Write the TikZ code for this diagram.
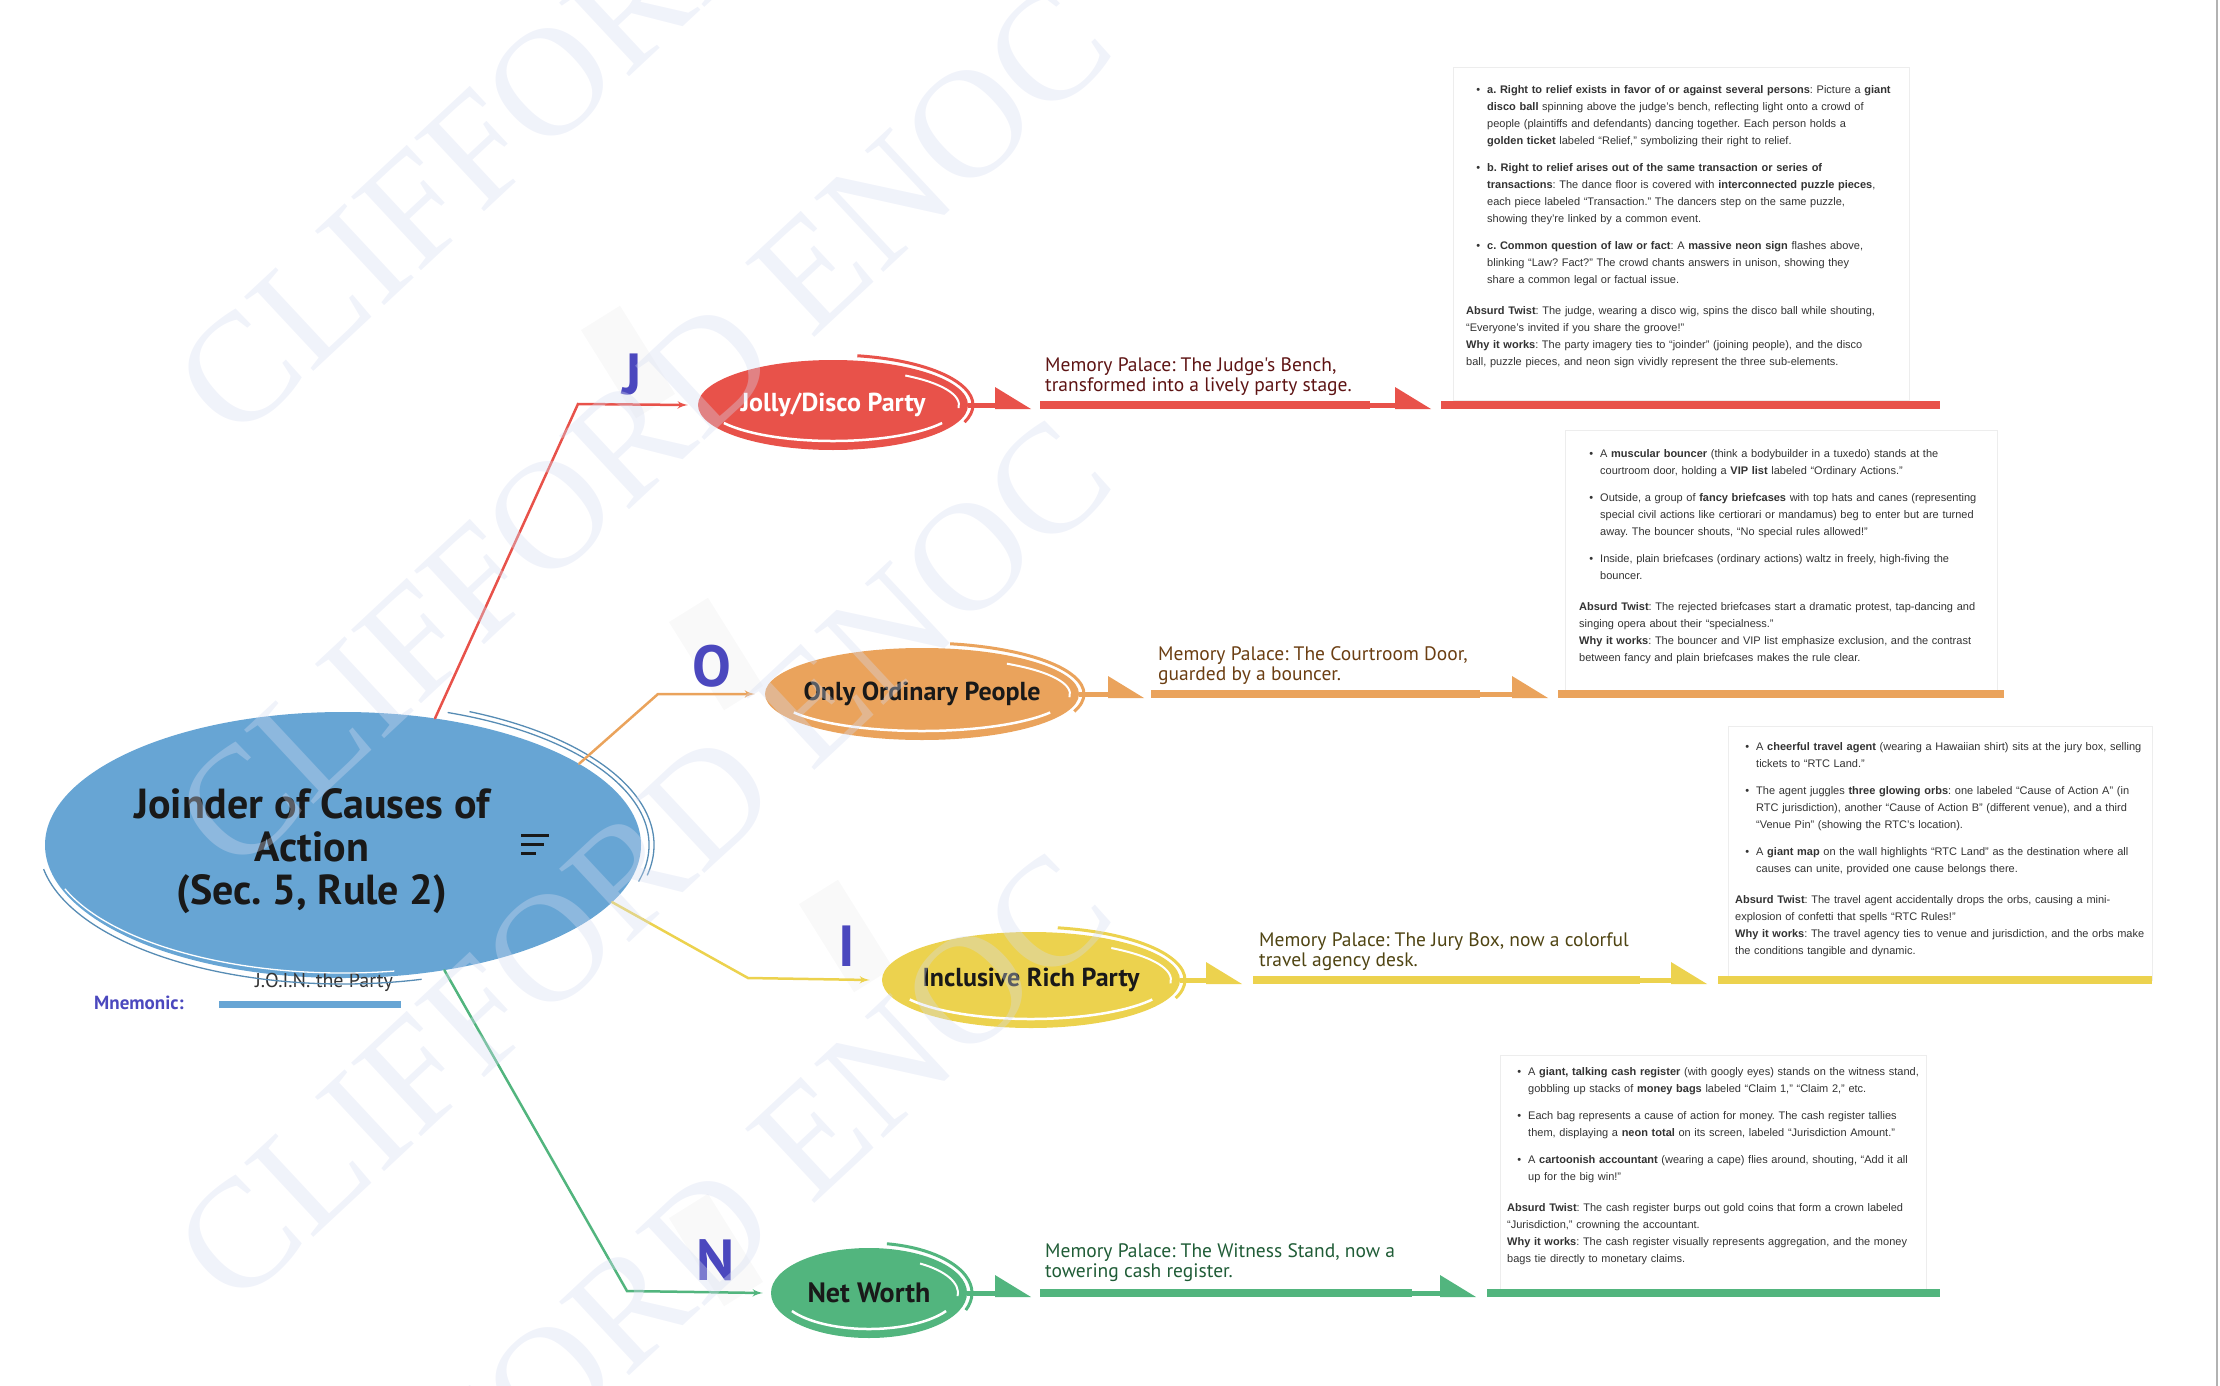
\documentclass[tikz,border=0pt]{standalone}
\usepackage{fontspec}
\setmainfont{Liberation Sans}
\newfontfamily\headfont{PT Sans}
\newfontfamily\markfont{Liberation Serif}
\usepackage{xcolor}
\usetikzlibrary{shapes.geometric, arrows, calc}

\definecolor{mapblue}{HTML}{67A5D4}
\definecolor{jred}{HTML}{E8524A}
\definecolor{oorange}{HTML}{EAA35C}
\definecolor{iyellow}{HTML}{ECD24E}
\definecolor{ngreen}{HTML}{52B57E}
\definecolor{letterblue}{HTML}{4B48BE}
\definecolor{jtext}{HTML}{5E1414}
\definecolor{otext}{HTML}{6B3E12}
\definecolor{itext}{HTML}{4F4412}
\definecolor{ntext}{HTML}{1F5C36}
\definecolor{wmarkc}{HTML}{D5DCF1}

\newcommand{\bul}[1]{\par\noindent\hangindent=21pt\hangafter=0\llap{\textbullet\hspace{7pt}}#1\par\vspace{10pt}}

\begin{document}
\frenchspacing
\begin{tikzpicture}[
    x=1pt, y=-1pt,
    >=latex',
    topic/.style={ellipse, fill=mapblue, minimum width=596pt, minimum height=266pt, inner sep=0pt},
    branch/.style={ellipse, inner sep=-12pt, text=black!90, font=\headfont\bfseries\fontsize{26}{30}\selectfont},
    letter/.style={text=letterblue, inner sep=0pt, font=\headfont\bfseries\fontsize{58}{58}\selectfont},
    scribble/.style={fill=black!3, opacity=0.7, minimum width=46pt, minimum height=104pt, rotate=32},
    twig/.style={line width=2.5pt, line cap=round},
    stub/.style={line width=5pt},
    bar/.style={line width=8pt},
    wedge/.style={insert path={++(0,4) -- ++(0,-22) -- ++(36,22) -- cycle}},
    memo/.style={anchor=north west, inner sep=0pt, align=left, font=\headfont\fontsize{19.5}{20}\selectfont},
    panel/.style={draw=black!7, fill=white, line width=1pt},
    note/.style={anchor=north west, inner sep=0pt, text width=520pt, align=left, text=black!80, font=\fontsize{11}{17}\selectfont},
    wmark/.style={anchor=base west, rotate=43, inner sep=0pt, text=wmarkc, opacity=0.35, font=\markfont\fontsize{155}{155}\selectfont}
]
    \useasboundingbox (0,0) rectangle (2220,1386);
    \draw[black!30, line width=2pt] (2217,0) -- (2217,1386);

    % Text panels
    \draw[panel] (1453,68) rectangle (1909,400);
    \draw[panel] (1565,430) rectangle (1997,694);
    \draw[panel] (1728,726) rectangle (2152,980);
    \draw[panel] (1500,1055) rectangle (1926,1293);

    % Node placement
    \node[topic] (topic) at (343,845) {};
    \node[align=center, text=black!90, font=\headfont\bfseries\fontsize{42}{43}\selectfont] (title) at (312,851) {Joinder of Causes of\\Action\\(Sec. 5, Rule 2)};
    \coordinate (menu) at (521,835);
    \draw[black!90, line width=3pt] (menu) -- ++(28,0) (menu) ++(0,9) -- ++(23,0) (menu) ++(0,18) -- ++(15,0);

    \node[text=letterblue, font=\headfont\bfseries\fontsize{19}{20}\selectfont] (mnem) at (139,1003) {Mnemonic:};
    \node[text=black!80, font=\headfont\fontsize{20}{22}\selectfont] (join) at (324,982) {J.O.I.N. the Party};
    \coordinate (ul) at (219,1004);
    \draw[mapblue, line width=7pt] (ul) -- ++(182,0);

    \node[scribble] at (628,362) {};
    \node[scribble] at (716,654) {};
    \node[scribble] at (846,936) {};
    \node[scribble] at (716,1250) {};
    \node[letter] (lj) at (632,375) {J};
    \node[letter] (lo) at (712,666) {O};
    \node[letter] (li) at (847,946) {I};
    \node[letter] (ln) at (716,1260) {N};

    \node[branch, fill=jred, text=white, minimum width=270pt, minimum height=90pt] (jolly) at (833,405) {Jolly/Disco Party};
    \node[branch, fill=oorange, minimum width=314pt, minimum height=92pt] (only) at (922,694) {Only Ordinary People};
    \node[branch, fill=iyellow, minimum width=298pt, minimum height=96pt] (incl) at (1031,980) {Inclusive Rich Party};
    \node[branch, fill=ngreen, minimum width=196pt, minimum height=90pt, font=\headfont\bfseries\fontsize{28}{30}\selectfont] (net) at (869,1293) {Net Worth};

    % Sketchy outlines
    \draw[mapblue!85!black, line width=1.3pt] ($(topic.center)+(-70:306 and 141)$) arc[start angle=-70, end angle=15, x radius=306, y radius=141];
    \draw[mapblue!85!black, line width=1.3pt] ($(topic.center)+(-66:311 and 146)$) arc[start angle=-66, end angle=12, x radius=311, y radius=146];
    \draw[mapblue!85!black, line width=1.3pt] ($(topic.center)+(75:304 and 139)$) arc[start angle=75, end angle=170, x radius=304, y radius=139];
    \draw[white, line width=1.3pt] ($(topic.center)+(80:296 and 128)$) arc[start angle=80, end angle=160, x radius=296, y radius=128];
    \foreach \n/\c/\a/\b in {jolly/jred/135/45, only/oorange/157/46, incl/iyellow/149/48, net/ngreen/98/45} {
        \pgfmathsetmacro\ra{\a+5}
        \pgfmathsetmacro\rb{\b+5}
        \pgfmathsetmacro\wa{\a-9}
        \pgfmathsetmacro\wb{\b-9}
        \draw[\c, line width=3pt] ($(\n.center)+(-80:{\ra} and {\rb})$) arc[start angle=-80, end angle=20, x radius=\ra, y radius=\rb];
        \draw[white, line width=2.5pt] ($(\n.center)+(30:{\wa} and {\wb})$) arc[start angle=30, end angle=150, x radius=\wa, y radius=\wb];
        \draw[white, line width=2pt] ($(\n.center)+(-55:{\wa} and {\wb})$) arc[start angle=-55, end angle=5, x radius=\wa, y radius=\wb];
    }

    % Branches
    \coordinate (jbend) at (578,404);
    \coordinate (obend) at (658,694);
    \coordinate (ibend) at (748,978);
    \coordinate (nbend) at (627,1291);
    \draw[twig, jred, ->] (topic.54) -- (jbend) -- ([xshift=-10pt]jolly.west);
    \draw[twig, oorange, ->] (topic.19) -- (obend) -- ([xshift=-10pt]only.west);
    \draw[twig, iyellow, ->] (topic.-12) -- (ibend) -- ([xshift=-12pt]incl.west);
    \draw[twig, ngreen, ->] (topic.309) -- (nbend) -- ([xshift=-8pt]net.west);

    % Arrows
    \coordinate (ja) at (995,405);  \coordinate (jb) at (1040,405); \coordinate (jc) at (1370,405);
    \coordinate (jd) at (1395,405); \coordinate (je) at (1441,405); \coordinate (jf) at (1940,405);
    \draw[stub, jred] (jolly.east) -- (ja) (jc) -- (jd);
    \draw[bar, jred] (jb) -- (jc) (je) -- (jf);
    \fill[jred] (ja) [wedge] (jd) [wedge];

    \coordinate (oa) at (1108,694); \coordinate (ob) at (1151,694); \coordinate (oc) at (1480,694);
    \coordinate (od) at (1512,694); \coordinate (oe) at (1558,694); \coordinate (of) at (2004,694);
    \draw[stub, oorange] (only.east) -- (oa) (oc) -- (od);
    \draw[bar, oorange] (ob) -- (oc) (oe) -- (of);
    \fill[oorange] (oa) [wedge] (od) [wedge];

    \coordinate (ia) at (1206,980); \coordinate (ib) at (1253,980); \coordinate (ic) at (1640,980);
    \coordinate (id) at (1671,980); \coordinate (ie) at (1718,980); \coordinate (if) at (2152,980);
    \draw[stub, iyellow] (incl.east) -- (ia) (ic) -- (id);
    \draw[bar, iyellow] (ib) -- (ic) (ie) -- (if);
    \fill[iyellow] (ia) [wedge] (id) [wedge];

    \coordinate (na) at (995,1293); \coordinate (nb) at (1040,1293); \coordinate (nc) at (1412,1293);
    \coordinate (nd) at (1440,1293); \coordinate (ne) at (1487,1293); \coordinate (nf) at (1940,1293);
    \draw[stub, ngreen] (net.east) -- (na) (nc) -- (nd);
    \draw[bar, ngreen] (nb) -- (nc) (ne) -- (nf);
    \fill[ngreen] (na) [wedge] (nd) [wedge];

    % Memory palace
    \node[memo, text=jtext] (jmemo) at (1045,357) {Memory Palace: The Judge's Bench,\\transformed into a lively party stage.};
    \node[memo, text=otext] (omemo) at (1158,646) {Memory Palace: The Courtroom Door,\\guarded by a bouncer.};
    \node[memo, text=itext] (imemo) at (1259,932) {Memory Palace: The Jury Box, now a colorful\\travel agency desk.};
    \node[memo, text=ntext] (nmemo) at (1045,1243) {Memory Palace: The Witness Stand, now a\\towering cash register.};

    % Notes
    \node[note] (jnote) at (1466,76) {%
\bul{\textbf{a. Right to relief exists in favor of or against several persons}: Picture a \textbf{giant}\newline
\textbf{disco ball} spinning above the judge’s bench, reflecting light onto a crowd of\newline
people (plaintiffs and defendants) dancing together. Each person holds a\newline
\textbf{golden ticket} labeled “Relief,” symbolizing their right to relief.}
\bul{\textbf{b. Right to relief arises out of the same transaction or series of}\newline
\textbf{transactions}: The dance floor is covered with \textbf{interconnected puzzle pieces},\newline
each piece labeled “Transaction.” The dancers step on the same puzzle,\newline
showing they’re linked by a common event.}
\bul{\textbf{c. Common question of law or fact}: A \textbf{massive neon sign} flashes above,\newline
blinking “Law? Fact?” The crowd chants answers in unison, showing they\newline
share a common legal or factual issue.}
\vspace{4pt}\noindent\textbf{Absurd Twist}: The judge, wearing a disco wig, spins the disco ball while shouting,\newline
“Everyone’s invited if you share the groove!”\newline
\textbf{Why it works}: The party imagery ties to “joinder” (joining people), and the disco\newline
ball, puzzle pieces, and neon sign vividly represent the three sub-elements.};

    \node[note] (onote) at (1579,440) {%
\bul{A \textbf{muscular bouncer} (think a bodybuilder in a tuxedo) stands at the\newline
courtroom door, holding a \textbf{VIP list} labeled “Ordinary Actions.”}
\bul{Outside, a group of \textbf{fancy briefcases} with top hats and canes (representing\newline
special civil actions like certiorari or mandamus) beg to enter but are turned\newline
away. The bouncer shouts, “No special rules allowed!”}
\bul{Inside, plain briefcases (ordinary actions) waltz in freely, high-fiving the\newline
bouncer.}
\vspace{4pt}\noindent\textbf{Absurd Twist}: The rejected briefcases start a dramatic protest, tap-dancing and\newline
singing opera about their “specialness.”\newline
\textbf{Why it works}: The bouncer and VIP list emphasize exclusion, and the contrast\newline
between fancy and plain briefcases makes the rule clear.};

    \node[note] (inote) at (1735,733) {%
\bul{A \textbf{cheerful travel agent} (wearing a Hawaiian shirt) sits at the jury box, selling\newline
tickets to “RTC Land.”}
\bul{The agent juggles \textbf{three glowing orbs}: one labeled “Cause of Action A” (in\newline
RTC jurisdiction), another “Cause of Action B” (different venue), and a third\newline
“Venue Pin” (showing the RTC’s location).}
\bul{A \textbf{giant map} on the wall highlights “RTC Land” as the destination where all\newline
causes can unite, provided one cause belongs there.}
\vspace{4pt}\noindent\textbf{Absurd Twist}: The travel agent accidentally drops the orbs, causing a mini-\newline
explosion of confetti that spells “RTC Rules!”\newline
\textbf{Why it works}: The travel agency ties to venue and jurisdiction, and the orbs make\newline
the conditions tangible and dynamic.};

    \node[note] (nnote) at (1507,1058) {%
\bul{A \textbf{giant, talking cash register} (with googly eyes) stands on the witness stand,\newline
gobbling up stacks of \textbf{money bags} labeled “Claim 1,” “Claim 2,” etc.}
\bul{Each bag represents a cause of action for money. The cash register tallies\newline
them, displaying a \textbf{neon total} on its screen, labeled “Jurisdiction Amount.”}
\bul{A \textbf{cartoonish accountant} (wearing a cape) flies around, shouting, “Add it all\newline
up for the big win!”}
\vspace{4pt}\noindent\textbf{Absurd Twist}: The cash register burps out gold coins that form a crown labeled\newline
“Jurisdiction,” crowning the accountant.\newline
\textbf{Why it works}: The cash register visually represents aggregation, and the money\newline
bags tie directly to monetary claims.};

    % Watermark
    \foreach \wy in {445,878,1311,1744}
        \node[wmark] at (235,\wy) {CLIFFORD ENOC};
\end{tikzpicture}
\end{document}
